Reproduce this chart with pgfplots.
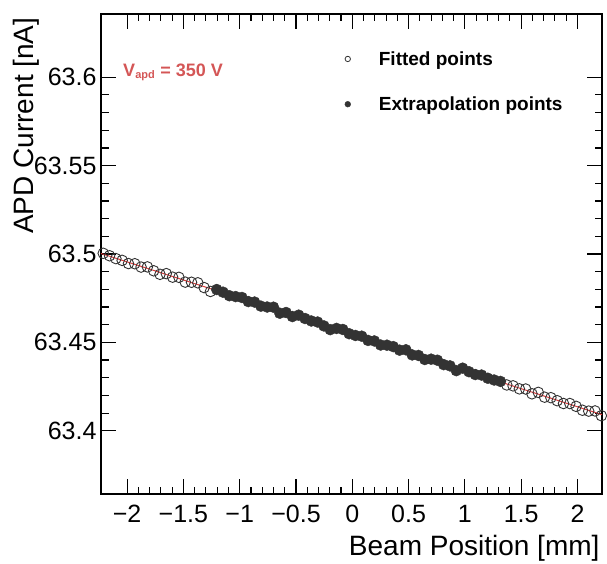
\documentclass[border=0pt]{standalone}
\usepackage{pgfplots}
\pgfplotsset{compat=1.18}
\usepackage{fontspec}
\setmainfont{Liberation Sans}
\definecolor{fitred}{RGB}{220,60,60}
\definecolor{labred}{RGB}{212,86,86}
\definecolor{ptgray}{RGB}{51,51,51}
\begin{document}
\begin{tikzpicture}
\begin{axis}[
  name=ax,
  at={(0,0)}, anchor=south west,
  scale only axis,
  width=501pt, height=480pt,
  xmin=-2.232, xmax=2.218,
  ymin=63.3642, ymax=63.6358,
  axis line style={line width=1.4pt},
  every tick/.style={black, line width=1.1pt},
  tick align=inside,
  major tick length=15pt, minor tick length=7.5pt,
  xtick={-2,-1.5,-1,-0.5,0,0.5,1,1.5,2},
  xticklabels={−2,−1.5,−1,−0.5,0,0.5,1,1.5,2},
  minor x tick num=4,
  ytick={63.4,63.45,63.5,63.55,63.6},
  yticklabels={63.4,63.45,63.5,63.55,63.6},
  minor y tick num=4,
  tick label style={font=\fontsize{25}{25}\selectfont},
  xticklabel style={yshift=-8pt},
  yticklabel style={xshift=-1pt},
  xlabel={Beam Position [mm]},
  ylabel={APD Current [nA]},
  label style={font=\fontsize{28}{28}\selectfont},
  xlabel style={at={(rel axis cs:1,0)}, anchor=base east, yshift=-61pt, xshift=1pt},
  ylabel style={at={(axis description cs:-0.1357,1.0)}, anchor=base east, rotate=0},
  legend style={at={(axis description cs:0.48,0.931)}, anchor=north west,
    draw=none, fill=none, font=\bfseries\fontsize{19}{19}\selectfont,
    row sep=26pt, column sep=26pt, nodes={inner sep=2pt}},
  legend cell align=left,
]
\addplot[fitred, line width=1pt, forget plot] coordinates {(-2.232,63.5003) (2.218,63.4091)};

\addplot[only marks, mark=o, mark size=5.3pt, mark options={draw=ptgray, line width=0.9pt},
  legend image code/.code={\draw[ptgray, line width=0.8pt] (0.3cm,0) circle (2.7pt);}]
  coordinates {
(-2.212,63.5004) (-2.156,63.4990) (-2.100,63.4974) (-2.044,63.4964) (-1.988,63.4946)
(-1.932,63.4945) (-1.876,63.4926) (-1.820,63.4927) (-1.764,63.4905) (-1.708,63.4885)
(-1.652,63.4889) (-1.596,63.4869) (-1.540,63.4868) (-1.484,63.4841) (-1.428,63.4840)
(-1.372,63.4837) (-1.316,63.4810) (-1.260,63.4788)
(1.372,63.4259) (1.428,63.4254) (1.484,63.4237) (1.540,63.4236) (1.596,63.4209)
(1.652,63.4217) (1.708,63.4190) (1.764,63.4187) (1.820,63.4170) (1.876,63.4154)
(1.932,63.4154) (1.988,63.4138) (2.044,63.4116) (2.100,63.4111) (2.156,63.4112)
(2.212,63.4085)
  };
\addlegendentry{Fitted points}

\addplot[only marks, mark=*, mark size=5.5pt, mark options={draw=ptgray, fill=ptgray},
  legend image code/.code={\fill[ptgray] (0.3cm,0) circle (2.9pt);}]
  coordinates {
(-1.204,63.4799) (-1.148,63.4784) (-1.092,63.4764) (-1.036,63.4759) (-0.980,63.4754)
(-0.924,63.4731) (-0.868,63.4728) (-0.812,63.4705) (-0.756,63.4700) (-0.700,63.4699)
(-0.644,63.4665) (-0.588,63.4669) (-0.532,63.4646) (-0.476,63.4654) (-0.420,63.4635)
(-0.364,63.4621) (-0.308,63.4615) (-0.252,63.4593) (-0.196,63.4572) (-0.140,63.4579)
(-0.084,63.4573) (-0.028,63.4549) (0.028,63.4539) (0.084,63.4535) (0.140,63.4511)
(0.196,63.4508) (0.252,63.4485) (0.308,63.4484) (0.364,63.4476) (0.420,63.4456)
(0.476,63.4458) (0.532,63.4429) (0.588,63.4426) (0.644,63.4403) (0.700,63.4405)
(0.756,63.4399) (0.812,63.4374) (0.868,63.4367) (0.924,63.4340) (0.980,63.4354)
(1.036,63.4334) (1.092,63.4318) (1.148,63.4315) (1.204,63.4297) (1.260,63.4287)
(1.316,63.4279)
  };
\addlegendentry{Extrapolation points}

\node[anchor=base west, text=labred, font=\bfseries\fontsize{18}{18}\selectfont, inner sep=0pt]
  at (axis description cs:0.044,0.870) {V\textsubscript{\fontsize{11}{11}\selectfont apd} = 350 V};
\end{axis}
\pgfresetboundingbox
\path (ax.south west) ++(-101pt,-69pt) rectangle ++(607pt,563pt);
\end{tikzpicture}
\end{document}
